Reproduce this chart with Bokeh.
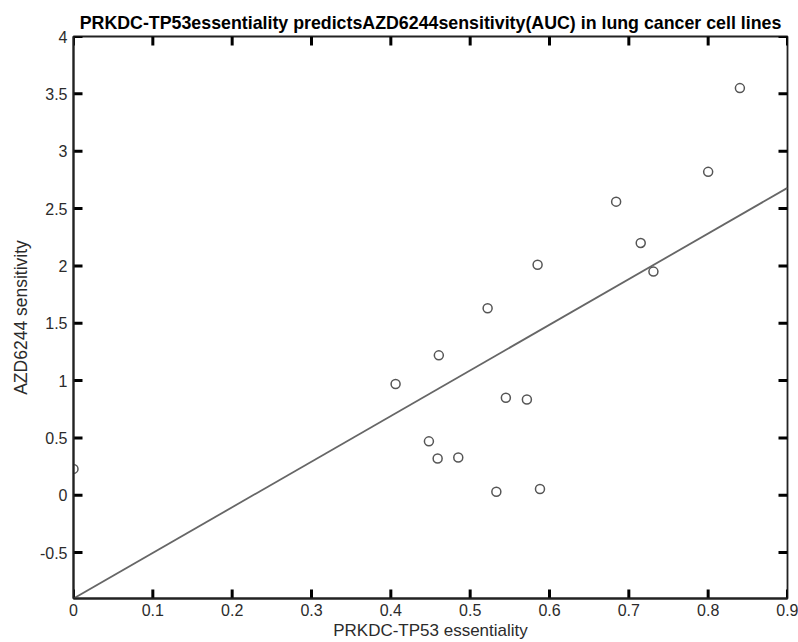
from bokeh.plotting import figure
from bokeh.models import LinearAxis, FixedTicker, Range1d
from bokeh.embed import file_html
from bokeh.resources import INLINE

# ---- data ----
essentiality = [0.0, 0.406, 0.448, 0.459, 0.4605, 0.485, 0.522, 0.533, 0.545,
                0.5715, 0.585, 0.588, 0.684, 0.715, 0.731, 0.80, 0.84]
sensitivity = [0.23, 0.97, 0.47, 0.32, 1.22, 0.33, 1.63, 0.03, 0.85,
               0.835, 2.01, 0.055, 2.56, 2.20, 1.95, 2.82, 3.55]

fit_x = [0.0, 0.9]
fit_y = [-0.9, 2.68]

x_limits = [0.0, 0.9]
y_limits = [-0.9, 4.0]

x_ticks = [0, 0.1, 0.2, 0.3, 0.4, 0.5, 0.6, 0.7, 0.8, 0.9]
x_tick_labels = ["0", "0.1", "0.2", "0.3", "0.4", "0.5", "0.6", "0.7", "0.8", "0.9"]
y_ticks = [-0.5, 0, 0.5, 1, 1.5, 2, 2.5, 3, 3.5, 4]
y_tick_labels = ["-0.5", "0", "0.5", "1", "1.5", "2", "2.5", "3", "3.5", "4"]

title_text = "PRKDC-TP53essentiality predictsAZD6244sensitivity(AUC) in lung cancer cell lines"
x_label = "PRKDC-TP53 essentiality"
y_label = "AZD6244 sensitivity"

FONT = "Liberation Sans"
AXIS_COLOR = "#222222"

W, H = 798, 642
BL, BR, BT, BB = 73, 11, 36, 43

p = figure(width=W, height=H, output_backend="svg", toolbar_location=None,
           x_range=Range1d(*x_limits), y_range=Range1d(*y_limits),
           x_axis_location=None, y_axis_location=None,
           min_border_left=BL, min_border_right=BR, min_border_top=BT, min_border_bottom=BB)
p.grid.visible = False
p.outline_line_color = AXIS_COLOR
p.outline_line_width = 1.8
p.background_fill_color = "white"
p.border_fill_color = "white"

p.title.text = title_text
p.title.align = "center"
p.title.text_font = FONT
p.title.text_font_style = "bold"
p.title.text_font_size = "17.8px"
p.title.text_color = "black"
p.title.standoff = 8


def style_axis(ax):
    ax.axis_line_color = AXIS_COLOR
    ax.axis_line_width = 2
    ax.major_tick_line_color = None
    ax.major_tick_in = 0
    ax.major_tick_out = 0
    ax.minor_tick_line_color = None
    ax.major_label_text_font = FONT
    ax.major_label_text_font_size = "16px"
    ax.major_label_text_color = "#2b2b2b"
    ax.axis_label_text_font = FONT
    ax.axis_label_text_font_style = "normal"
    ax.axis_label_text_color = "#2b2b2b"


xb = LinearAxis(ticker=FixedTicker(ticks=x_ticks),
                major_label_overrides=dict(zip(x_ticks, x_tick_labels)),
                axis_label=x_label)
style_axis(xb)
xb.axis_label_text_font_size = "17px"
xb.major_label_standoff = 5
xb.axis_label_standoff = 2
p.add_layout(xb, "below")

yl = LinearAxis(ticker=FixedTicker(ticks=y_ticks),
                major_label_overrides=dict(zip(y_ticks, y_tick_labels)),
                axis_label=y_label)
style_axis(yl)
yl.axis_label_text_font_size = "17.5px"
yl.major_label_standoff = 6
yl.axis_label_standoff = 6
p.add_layout(yl, "left")

# inward tick marks on all four sides of the box
frame_w = W - BL - BR
frame_h = H - BT - BB
TICK_PX = 9
dx = TICK_PX * (x_limits[1] - x_limits[0]) / frame_w
dy = TICK_PX * (y_limits[1] - y_limits[0]) / frame_h
nx, ny = len(x_ticks), len(y_ticks)
tick_kw = dict(line_color="black", line_width=3)
p.segment(x0=x_ticks, y0=[y_limits[0]] * nx, x1=x_ticks, y1=[y_limits[0] + dy] * nx, **tick_kw)
p.segment(x0=x_ticks, y0=[y_limits[1]] * nx, x1=x_ticks, y1=[y_limits[1] - dy] * nx, **tick_kw)
p.segment(x0=[x_limits[0]] * ny, y0=y_ticks, x1=[x_limits[0] + dx] * ny, y1=y_ticks, **tick_kw)
p.segment(x0=[x_limits[1]] * ny, y0=y_ticks, x1=[x_limits[1] - dx] * ny, y1=y_ticks, **tick_kw)

p.line(fit_x, fit_y, line_color="#666666", line_width=1.8)
p.scatter(essentiality, sensitivity, marker="circle", size=9,
          fill_color=None, line_color="#555555", line_width=1.5)

open("out.html", "w").write(file_html(p, INLINE))
